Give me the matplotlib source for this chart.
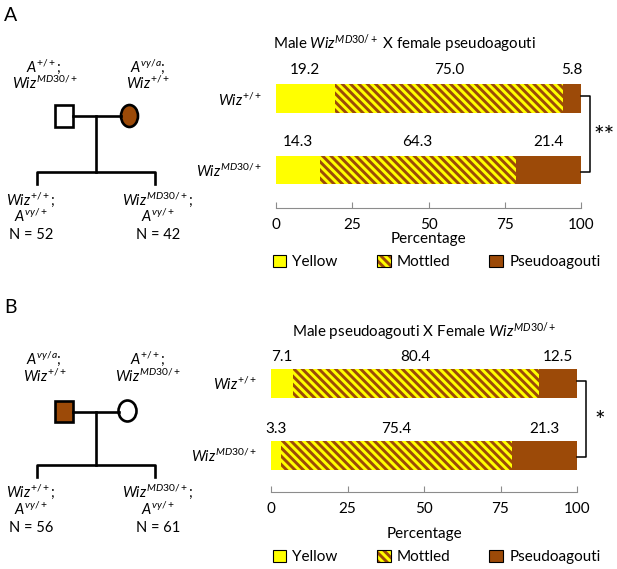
import matplotlib
matplotlib.use('Agg')
import matplotlib.pyplot as plt
import numpy as np
from matplotlib.patches import Rectangle, Ellipse, Patch
from matplotlib.legend_handler import HandlerTuple

plt.rcParams['font.family'] = ['Lato', 'DejaVu Sans']
plt.rcParams['mathtext.fontset'] = 'custom'
plt.rcParams['mathtext.rm'] = 'Lato'
plt.rcParams['mathtext.it'] = 'Lato:italic'
plt.rcParams['mathtext.bf'] = 'Lato:bold'
plt.rcParams['hatch.linewidth'] = 2.1

YEL = '#FFFF00'
BROWN = '#9C4A08'
GRAY = '#8C8C8C'
FS = 11
PFS = 10.5

# data
genotypes = [r'$Wiz^{\mathit{+/+}}$', r'$Wiz^{\mathit{MD30/+}}$']
classes = ['Yellow', 'Mottled', 'Pseudoagouti']

a_yellow = [19.2, 14.3]
a_mottled = [75.0, 64.3]
a_pseudo = [5.8, 21.4]
a_n = [52, 42]
a_sig = '**'

b_yellow = [7.1, 3.3]
b_mottled = [80.4, 75.4]
b_pseudo = [12.5, 21.3]
b_n = [56, 61]
b_sig = '*'

W, H = 617, 569
fig = plt.figure(figsize=(W / 100, H / 100), dpi=100)

ov = fig.add_axes([0, 0, 1, 1])
ov.set_xlim(0, W)
ov.set_ylim(H, 0)
ov.axis('off')


def px_axes(l, t, r, b):
    return fig.add_axes([l / W, 1 - b / H, (r - l) / W, (b - t) / H])


def chart(l, t, r, b, ylo, yhi, yel, mot, pse, sig, lab_dy, xlabpad):
    ax = px_axes(l, t, r, b)
    ys = np.array([1, 0])
    yel = np.array(yel)
    mot = np.array(mot)
    pse = np.array(pse)
    ax.barh(ys, yel, height=0.4, color=YEL, linewidth=0)
    ax.barh(ys, mot, left=yel, height=0.4, color=YEL, edgecolor=BROWN,
            hatch='\\\\\\\\', linewidth=0)
    ax.barh(ys, pse, left=yel + mot, height=0.4, color=BROWN, linewidth=0)
    for i in range(2):
        lefts = [0, yel[i], yel[i] + mot[i]]
        for lf, v in zip(lefts, [yel[i], mot[i], pse[i]]):
            ax.text(lf + v / 2, ys[i] + lab_dy, '%.1f' % v, ha='center',
                    va='center', fontsize=FS)
    ax.set_xlim(0, 100)
    ax.set_ylim(ylo, yhi)
    ax.set_yticks(ys)
    ax.set_yticklabels(genotypes, fontsize=10.5)
    ax.tick_params(axis='y', length=0, pad=10)
    ax.set_xticks([0, 25, 50, 75, 100])
    ax.tick_params(axis='x', direction='in', length=4, color=GRAY,
                   labelsize=FS, pad=7)
    for s in ['top', 'right', 'left']:
        ax.spines[s].set_visible(False)
    ax.spines['bottom'].set_color(GRAY)
    ax.set_xlabel('Percentage', fontsize=FS, labelpad=xlabpad)
    # significance bracket
    ax.plot([100, 103, 103, 100], [1.03, 1.03, -0.03, -0.03], color='black',
            lw=1.1, clip_on=False)
    ax.text(107.5, 0.47, sig, ha='center', va='center', fontsize=18,
            clip_on=False)
    return ax


def legend_at(x, y):
    handles = [Patch(facecolor=YEL, edgecolor='black', lw=0.8),
               (Patch(facecolor=YEL, edgecolor=BROWN, hatch='\\\\\\\\', lw=0),
                Patch(facecolor='none', edgecolor='black', lw=0.8)),
               Patch(facecolor=BROWN, edgecolor='black', lw=0.8)]
    fig.legend(handles, classes, loc='center left',
               bbox_to_anchor=(x / W, 1 - y / H), ncol=3, frameon=False,
               fontsize=FS, handlelength=0.9, handleheight=0.9,
               handletextpad=0.4, columnspacing=2.55, borderpad=0,
               handler_map={tuple: HandlerTuple(ndivide=1, pad=0)})


# panel A chart
chart(276, 60, 581, 208, -0.53, 1.54, a_yellow, a_mottled, a_pseudo, a_sig,
      0.4, 0)
fig.text(273 / W, 1 - 44 / H, r'Male $Wiz^{\mathit{MD30/+}}$ X female pseudoagouti',
         ha='left', va='center', fontsize=10.9)
legend_at(265, 262)

# panel B chart
chart(271, 345, 577, 492, -0.51, 1.53, b_yellow, b_mottled, b_pseudo, b_sig,
      0.36, 8)
fig.text(424 / W, 1 - 332 / H, r'Male pseudoagouti X Female $Wiz^{\mathit{MD30/+}}$',
         ha='center', va='center', fontsize=10.9)
legend_at(265, 557)


def pedigree(sq, circ, sq_fill, circ_fill, left_txt, right_txt, ns, tl, tr):
    lw = 1.9
    ov.add_patch(Rectangle((sq[0], sq[1]), sq[2], sq[3], facecolor=sq_fill,
                           edgecolor='black', lw=lw))
    ov.add_patch(Ellipse((circ[0], circ[1]), circ[2], circ[3],
                         facecolor=circ_fill, edgecolor='black', lw=lw))
    mid = sq[1] + sq[3] / 2
    ov.plot([sq[0] + sq[2], circ[0] - circ[2] / 2], [mid, mid], color='black', lw=lw)
    ov.plot([96, 96], [mid, tl], color='black', lw=lw)
    ov.plot([37, 37, 155, 155], [tl + 12, tl, tl, tl + 12],
            color='black', lw=lw)
    kw = dict(ha='center', va='baseline', fontsize=PFS)
    ov.text(44, tr[0], left_txt[0], **kw)
    ov.text(45, tr[1], left_txt[1], **kw)
    ov.text(148, tr[0], right_txt[0], **kw)
    ov.text(148, tr[1], right_txt[1], **kw)
    kids = [(31, r'$Wiz^{\mathit{+/+}}\mathit{;}$'),
            (158, r'$Wiz^{\mathit{MD30/+}}\mathit{;}$')]
    for (cx, s), n in zip(kids, ns):
        ov.text(cx, tr[2], s, **kw)
        ov.text(cx, tr[3], r'$A^{\mathit{vy/+}}$', **kw)
        ov.text(cx, tr[4], 'N = %d' % n, **kw)


a_plus = [r'$A^{\mathit{+/+}}\mathit{;}$', r'$Wiz^{\mathit{MD30/+}}$']
a_vy = [r'$A^{\mathit{vy/a}}\mathit{;}$', r'$Wiz^{\mathit{+/+}}$']

ov.text(11, 15, 'A', ha='center', va='center', fontsize=14)
pedigree((55, 105, 18, 22), (129.5, 116, 17, 22), 'white', BROWN,
         a_plus, a_vy, a_n, 172, (72, 89, 205, 222, 239))

ov.text(11, 307, 'B', ha='center', va='center', fontsize=14)
pedigree((55, 401, 18, 21), (127.5, 411, 18, 21), BROWN, 'white',
         a_vy, a_plus, b_n, 465, (364, 382, 497, 515, 532))

fig.savefig('out.png', dpi=100)
